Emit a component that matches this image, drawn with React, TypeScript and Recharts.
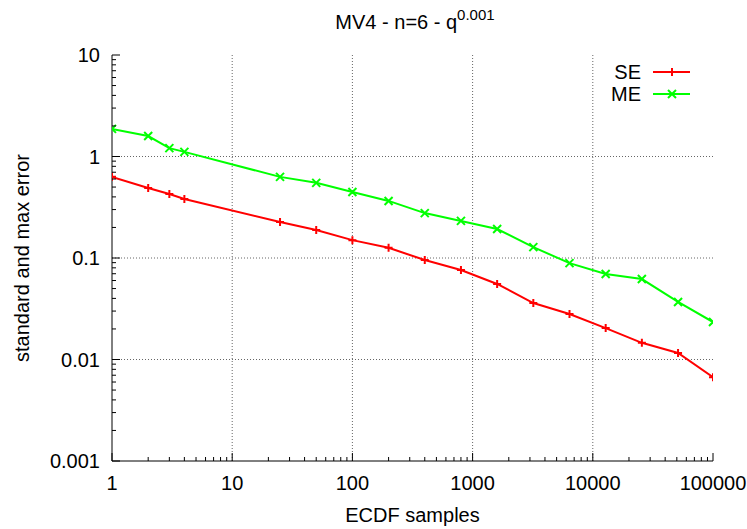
import React from 'react';
import { LineChart, Line, XAxis, YAxis, ReferenceLine, Label } from 'recharts';

const samples = [1, 2, 3, 4, 25, 50, 100, 200, 400, 800, 1600, 3200, 6400, 12800, 25600, 51200, 100000];
const seValues = [0.63, 0.49, 0.427, 0.381, 0.226, 0.189, 0.15, 0.126, 0.0955, 0.0762, 0.0555, 0.036, 0.0281, 0.0204, 0.0146, 0.0116, 0.0067];
const meValues = [1.87, 1.59, 1.21, 1.11, 0.63, 0.55, 0.447, 0.365, 0.277, 0.232, 0.193, 0.128, 0.089, 0.0695, 0.062, 0.0369, 0.0234];

const xMajor = [1, 10, 100, 1000, 10000, 100000];
const xMajorLabels = ['1', '10', '100', '1000', '10000', '100000'];
const yMajor = [0.001, 0.01, 0.1, 1, 10];
const yMajorLabels = ['0.001', '0.01', '0.1', '1', '10'];
const minorMultipliers = [2, 3, 4, 5, 6, 7, 8, 9];

const xGrid = [10, 100, 1000, 10000];
const yGrid = [0.01, 0.1, 1];

const buildTicks = (majors: number[]) => {
  const out: number[] = [];
  majors.forEach((m, i) => {
    out.push(m);
    if (i < majors.length - 1) minorMultipliers.forEach((k) => out.push(parseFloat((m * k).toPrecision(6))));
  });
  return out;
};
const xTicks = buildTicks(xMajor);
const yTicks = buildTicks(yMajor);

const data = samples.map((s, i) => ({ x: s, se: seValues[i], me: meValues[i] }));

const FONT = 'Liberation Sans, Arial, Helvetica, sans-serif';
const FS = 20;
const MAJOR = 8;
const MINOR = 4;

const isMajor = (list: number[], v: number) => list.some((m) => Math.abs(m - v) / m < 1e-6);
const labelOf = (list: number[], labels: string[], v: number) => {
  const i = list.findIndex((m) => Math.abs(m - v) / m < 1e-6);
  return i >= 0 ? labels[i] : '';
};

const BottomTick = (props: any) => {
  const { x, y, payload } = props;
  const maj = isMajor(xMajor, payload.value);
  return (
    <g>
      <line x1={x} x2={x} y1={y} y2={y - (maj ? MAJOR : MINOR)} stroke="#000" strokeWidth={1} />
      {maj && (
        <text x={x} y={y + 29} textAnchor="middle" fontSize={FS} fontFamily={FONT} fill="#000">
          {labelOf(xMajor, xMajorLabels, payload.value)}
        </text>
      )}
    </g>
  );
};
const TopTick = (props: any) => {
  const { x, y, payload } = props;
  const maj = isMajor(xMajor, payload.value);
  return <line x1={x} x2={x} y1={y} y2={y + (maj ? MAJOR : MINOR)} stroke="#000" strokeWidth={1} />;
};
const LeftTick = (props: any) => {
  const { x, y, payload } = props;
  const maj = isMajor(yMajor, payload.value);
  return (
    <g>
      <line x1={x} x2={x + (maj ? MAJOR : MINOR)} y1={y} y2={y} stroke="#000" strokeWidth={1} />
      {maj && (
        <text x={x - 12} y={y} dy="0.35em" textAnchor="end" fontSize={FS} fontFamily={FONT} fill="#000">
          {labelOf(yMajor, yMajorLabels, payload.value)}
        </text>
      )}
    </g>
  );
};
const RightTick = (props: any) => {
  const { x, y, payload } = props;
  const maj = isMajor(yMajor, payload.value);
  return <line x1={x} x2={x - (maj ? MAJOR : MINOR)} y1={y} y2={y} stroke="#000" strokeWidth={1} />;
};

const PlusDot = (props: any) => {
  const { cx, cy, stroke } = props;
  if (cx == null || cy == null) return <g />;
  return <path d={`M${cx - 4},${cy}H${cx + 4}M${cx},${cy - 4}V${cy + 4}`} stroke={stroke} strokeWidth={2} fill="none" />;
};
const CrossDot = (props: any) => {
  const { cx, cy, stroke } = props;
  if (cx == null || cy == null) return <g />;
  return (
    <path
      d={`M${cx - 4},${cy - 4}L${cx + 4},${cy + 4}M${cx + 4},${cy - 4}L${cx - 4},${cy + 4}`}
      stroke={stroke}
      strokeWidth={2}
      fill="none"
    />
  );
};

const legendItems = [
  { name: 'SE', color: '#ff0000', marker: 'plus' },
  { name: 'ME', color: '#00ff00', marker: 'cross' },
];

const LegendOverlay = () => (
  <svg width={140} height={50} style={{ position: 'absolute', left: 560, top: 61, display: 'block' }}>
    {legendItems.map((it, i) => {
      const y = 11 + i * 22;
      const mx = 112;
      return (
        <g key={it.name}>
          <text x={81} y={y} dy="0.35em" textAnchor="end" fontSize={FS} fontFamily={FONT} fill="#000">
            {it.name}
          </text>
          <line x1={93} x2={130} y1={y} y2={y} stroke={it.color} strokeWidth={2} />
          {it.marker === 'plus' ? (
            <path d={`M${mx - 4},${y}H${mx + 4}M${mx},${y - 4}V${y + 4}`} stroke={it.color} strokeWidth={2} />
          ) : (
            <path d={`M${mx - 4},${y - 4}L${mx + 4},${y + 4}M${mx + 4},${y - 4}L${mx - 4},${y + 4}`} stroke={it.color} strokeWidth={2} />
          )}
        </g>
      );
    })}
  </svg>
);

export default function App() {
  return (
    <div style={{ position: 'absolute', left: 0, top: 0, width: 747, height: 529, background: '#fff', overflow: 'hidden' }}>
      <LineChart width={747} height={529} data={data} margin={{ top: 55, right: 34, bottom: 0, left: 0 }}>
        <XAxis
          xAxisId="bottom"
          dataKey="x"
          type="number"
          scale="log"
          domain={[1, 100000]}
          allowDataOverflow
          ticks={xTicks}
          interval={0}
          tick={<BottomTick />}
          tickLine={false}
          tickSize={0}
          tickMargin={0}
          axisLine={{ stroke: '#000', strokeWidth: 1 }}
          height={68}
        >
          <Label value="ECDF samples" position="insideBottom" offset={7} fontSize={FS} fontFamily={FONT} fill="#000" />
        </XAxis>
        <XAxis
          xAxisId="top"
          orientation="top"
          dataKey="x"
          type="number"
          scale="log"
          domain={[1, 100000]}
          allowDataOverflow
          ticks={xTicks}
          interval={0}
          tick={<TopTick />}
          tickLine={false}
          tickSize={0}
          tickMargin={0}
          axisLine={{ stroke: '#000', strokeWidth: 1 }}
          height={0}
        />
        <YAxis
          yAxisId="left"
          type="number"
          scale="log"
          domain={[0.001, 10]}
          allowDataOverflow
          ticks={yTicks}
          interval={0}
          tick={<LeftTick />}
          tickLine={false}
          tickSize={0}
          tickMargin={0}
          axisLine={{ stroke: '#000', strokeWidth: 1 }}
          width={112}
        >
          <Label
            value="standard and max error"
            angle={-90}
            position="insideLeft"
            offset={22}
            style={{ textAnchor: 'middle' }}
            fontSize={FS}
            fontFamily={FONT}
            fill="#000"
          />
        </YAxis>
        <YAxis
          yAxisId="right"
          orientation="right"
          type="number"
          scale="log"
          domain={[0.001, 10]}
          allowDataOverflow
          ticks={yTicks}
          interval={0}
          tick={<RightTick />}
          tickLine={false}
          tickSize={0}
          tickMargin={0}
          axisLine={{ stroke: '#000', strokeWidth: 1 }}
          width={0}
        />
        {xGrid.map((v) => (
          <ReferenceLine key={'gx' + v} x={v} xAxisId="bottom" yAxisId="left" stroke="#666" strokeDasharray="1 2" />
        ))}
        {yGrid.map((v) => (
          <ReferenceLine key={'gy' + v} y={v} xAxisId="bottom" yAxisId="left" stroke="#666" strokeDasharray="1 2" />
        ))}
        <Line
          xAxisId="bottom"
          yAxisId="left"
          dataKey="se"
          name="SE"
          stroke="#ff0000"
          strokeWidth={2}
          dot={<PlusDot />}
          activeDot={false}
          isAnimationActive={false}
        />
        <Line
          xAxisId="bottom"
          yAxisId="left"
          dataKey="me"
          name="ME"
          stroke="#00ff00"
          strokeWidth={2}
          dot={<CrossDot />}
          activeDot={false}
          isAnimationActive={false}
        />
      </LineChart>
      <div
        style={{
          position: 'absolute',
          left: 0,
          width: 830,
          top: 10,
          textAlign: 'center',
          fontFamily: FONT,
          fontSize: FS,
          color: '#000',
          lineHeight: '24px',
        }}
      >
        MV4 - n=6 - q<sup style={{ fontSize: 15, verticalAlign: 'baseline', position: 'relative', top: -9 }}>0.001</sup>
      </div>
      <LegendOverlay />
    </div>
  );
}
